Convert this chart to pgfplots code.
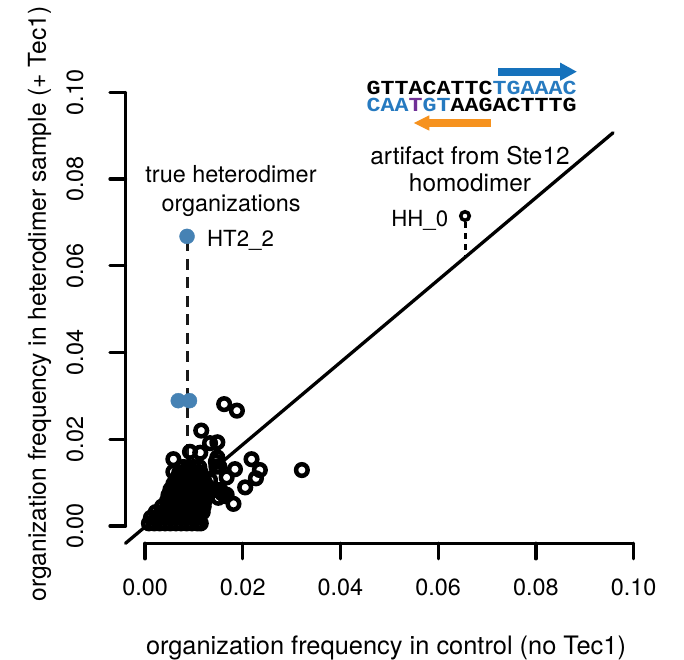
\documentclass[border=0pt]{standalone}
\usepackage{fontspec}
\setmainfont{TeX Gyre Heros}
\newfontfamily\dnafont{Liberation Mono}
\usepackage{pgfplots}
\pgfplotsset{compat=1.18}
\usetikzlibrary{arrows.meta}
\definecolor{dnablue}{RGB}{38,122,192}
\definecolor{arrblue}{RGB}{22,114,188}
\definecolor{dnaorange}{RGB}{246,146,30}
\definecolor{dnapurple}{RGB}{112,48,150}
\definecolor{ptblue}{RGB}{70,130,180}
\begin{document}
\begin{tikzpicture}
\begin{scope}[x=1bp,y=-1bp,shift={(-125.5bp,543.3bp)}]
\path[use as bounding box] (0,0) rectangle (684,659);
\end{scope}
\begin{axis}[at={(0,0)},anchor=south west,scale only axis,
  width=527.6bp,height=468.2bp,
  xmin=-0.004,xmax=0.104,ymin=-0.004,ymax=0.104,
  clip=false,
  axis line style={draw=none},
  tick pos=left,
  tick align=outside,
  major tick length=15.5bp,
  tick style={line width=3.3bp,black,line cap=round},
  xtick={0,0.02,0.04,0.06,0.08,0.1},
  ytick={0,0.02,0.04,0.06,0.08,0.1},
  scaled ticks=false,
  /pgf/number format/assume math mode=true,
  /pgf/number format/fixed,
  /pgf/number format/fixed zerofill,
  /pgf/number format/precision=2,
  tick label style={font=\fontsize{23.5}{28}\selectfont},
  xticklabel style={yshift=-16.5bp},
  yticklabel style={xshift=-23bp,rotate=90,anchor=south},
]
% axes in R style
\draw[line width=3.3bp,line cap=round] (axis cs:0,-0.004) -- (axis cs:0.1,-0.004);
\draw[line width=3.3bp,line cap=round] (axis cs:-0.004,0) -- (axis cs:-0.004,0.1);

% cluster of organizations (open circles)
\addplot[only marks,mark=o,mark size=5.8bp,mark options={line width=4.5bp,black}] coordinates {
(0.0008,0.0006) (0.0019,0.0006) (0.0030,0.0006) (0.0041,0.0006) (0.0052,0.0006) (0.0063,0.0006) (0.0074,0.0006) (0.0085,0.0006) (0.0096,0.0006) (0.0107,0.0006) (0.0114,0.0006)
(0.0012,0.0019) (0.0023,0.0019) (0.0034,0.0019) (0.0045,0.0019) (0.0056,0.0019) (0.0067,0.0019) (0.0078,0.0019) (0.0089,0.0019) (0.0100,0.0019) (0.0111,0.0019)
(0.0022,0.0032) (0.0033,0.0032) (0.0044,0.0032) (0.0055,0.0032) (0.0066,0.0032) (0.0077,0.0032) (0.0088,0.0032) (0.0099,0.0032) (0.0110,0.0032) (0.0118,0.0032)
(0.0035,0.0045) (0.0046,0.0045) (0.0057,0.0045) (0.0068,0.0045) (0.0079,0.0045) (0.0090,0.0045) (0.0101,0.0045) (0.0112,0.0045) (0.0120,0.0045)
(0.0045,0.0058) (0.0056,0.0058) (0.0067,0.0058) (0.0078,0.0058) (0.0089,0.0058) (0.0100,0.0058) (0.0111,0.0058) (0.0122,0.0058)
(0.0048,0.0071) (0.0059,0.0071) (0.0070,0.0071) (0.0081,0.0071) (0.0092,0.0071) (0.0103,0.0071) (0.0114,0.0071) (0.0125,0.0071)
(0.0052,0.0084) (0.0063,0.0084) (0.0074,0.0084) (0.0085,0.0084) (0.0096,0.0084) (0.0107,0.0084) (0.0118,0.0084) (0.0130,0.0084)
(0.0058,0.0097) (0.0069,0.0097) (0.0080,0.0097) (0.0091,0.0097) (0.0102,0.0097) (0.0113,0.0097) (0.0124,0.0097)
(0.0065,0.0110) (0.0076,0.0110) (0.0087,0.0110) (0.0098,0.0110) (0.0109,0.0110) (0.0120,0.0110)
(0.0070,0.0123) (0.0081,0.0123) (0.0092,0.0123) (0.0103,0.0123) (0.0114,0.0123)
(0.0078,0.0136) (0.0089,0.0136) (0.0100,0.0136) (0.0111,0.0136)
(0.0158,0.0075) (0.0150,0.0065)
(0.0162,0.0281) (0.0188,0.0266) (0.0115,0.0220) (0.0133,0.0191) (0.0148,0.0193)
(0.0058,0.0154) (0.0058,0.0125) (0.0092,0.0171) (0.0113,0.0169) (0.0148,0.0158)
(0.0152,0.0137) (0.0218,0.0154) (0.0184,0.0131) (0.0235,0.0129) (0.0167,0.0112)
(0.0227,0.0110) (0.0321,0.0129) (0.0205,0.0089) (0.0181,0.0051) (0.0147,0.0083)
(0.0167,0.0072) (0.0133,0.0106) (0.0145,0.0148) (0.0154,0.0083) (0.0164,0.0069)
(0.0146,0.0137)
};
% HH_0
\addplot[only marks,mark=o,mark size=4.3bp,mark options={line width=3.5bp,black}] coordinates {(0.0655,0.0715)};
% blue heterodimer points
\addplot[only marks,mark=*,mark size=7.5bp,mark options={draw=ptblue,fill=ptblue}] coordinates {(0.0068,0.0289) (0.0091,0.0289) (0.0086,0.0668)};
% dashed connectors
\addplot[no marks,black!90,line width=2.7bp,dash pattern=on 11bp off 7.5bp,dash phase=-4bp] coordinates {(0.0087,0.0668) (0.0087,0.0080)};
\addplot[no marks,black,line width=3bp,dash pattern=on 6bp off 5bp] coordinates {(0.0655,0.0700) (0.0655,0.0621)};
% diagonal
\addplot[no marks,black,line width=3.3bp,line cap=round] coordinates {(-0.004,-0.004) (0.0958,0.0907)};
\end{axis}
\begin{scope}[x=1bp,y=-1bp,shift={(-125.5bp,543.3bp)}]
\node[anchor=base,font=\fontsize{25.5}{30}\selectfont,inner sep=0pt] at (386,654) {organization frequency in control (no Tec1)};
\node[anchor=base,rotate=90,font=\fontsize{24.7}{30}\selectfont,inner sep=0pt] at (46,304) {organization frequency in heterodimer sample (+ Tec1)};
\node[anchor=base,font=\fontsize{23.5}{28}\selectfont,inner sep=0pt] at (231,183) {true heterodimer};
\node[anchor=base,font=\fontsize{23.5}{28}\selectfont,inner sep=0pt] at (231,211.7) {organizations};
\node[anchor=base west,font=\fontsize{22.3}{26}\selectfont,inner sep=0pt] at (207,246.5) {HT2\_2};
\node[anchor=base east,font=\fontsize{22.3}{26}\selectfont,inner sep=0pt] at (448.3,226.7) {HH\_0};
\node[anchor=base,font=\fontsize{24.5}{28}\selectfont,inner sep=0pt] at (470,165) {artifact from Ste12};
\node[anchor=base,font=\fontsize{24.5}{28}\selectfont,inner sep=0pt] at (470,192) {homodimer};
\node[anchor=base west,font=\dnafont\bfseries\fontsize{20}{22}\selectfont,inner sep=0pt,xscale=1.17] at (366.5,95) {GTTACATTC{\color{dnablue}TGAAAC}};
\node[anchor=base west,font=\dnafont\bfseries\fontsize{20}{22}\selectfont,inner sep=0pt,xscale=1.17] at (366.5,111.5) {{\color{dnablue}CAA}{\color{dnapurple}T}{\color{dnablue}GT}AAGACTTTG};
\draw[arrblue,line width=8bp,-{Triangle[length=17bp,width=17bp]}] (498.3,71.7) -- (577,71.7);
\draw[dnaorange,line width=7.3bp,-{Triangle[length=16bp,width=14bp]}] (490.7,123) -- (413.3,123);
\end{scope}
\end{tikzpicture}
\end{document}
